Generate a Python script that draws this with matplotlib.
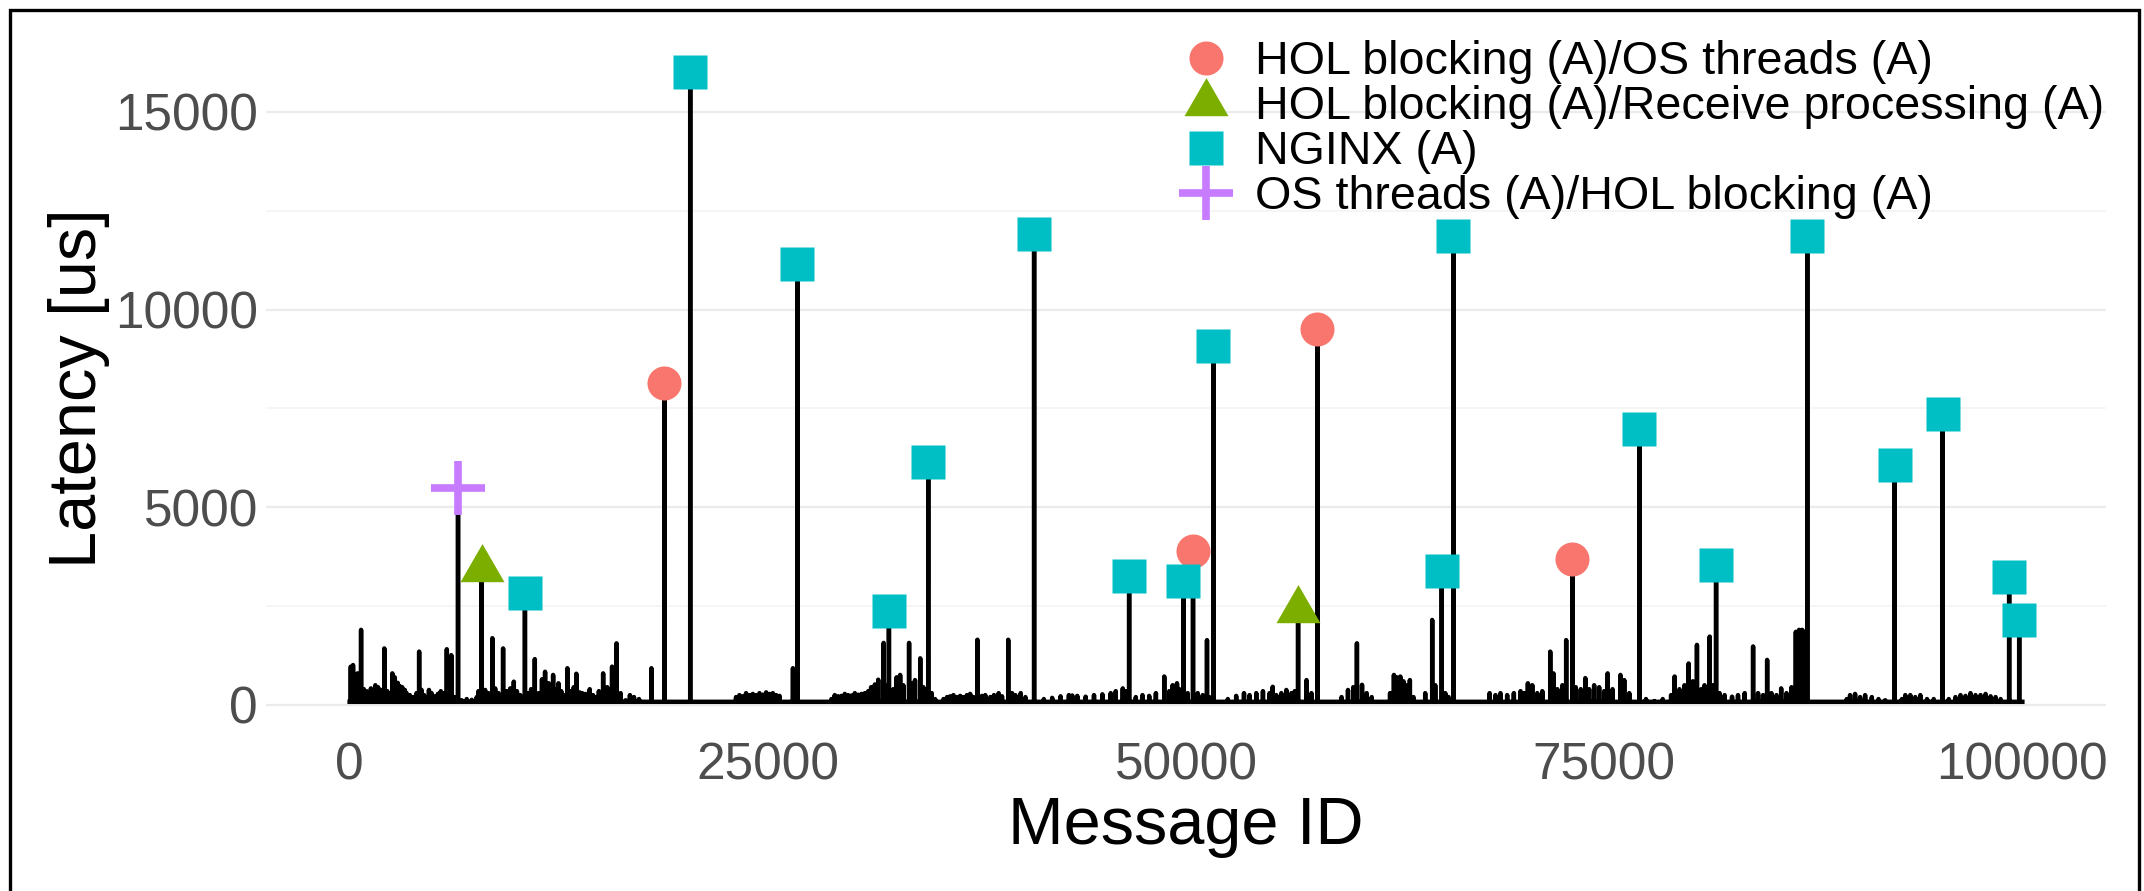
import matplotlib
matplotlib.use("Agg")
import matplotlib.pyplot as plt
from matplotlib.path import Path
from matplotlib.patches import Rectangle

plt.rcParams['font.family'] = ['Liberation Sans', 'DejaVu Sans']

# ---------------- data ----------------
# annotated spikes (message id, latency in us)
hol_os_ids = [18810, 50420, 57850, 73100]
hol_os_lat = [8150, 3900, 9500, 3690]

hol_rx_ids = [7890, 56700]
hol_rx_lat = [3450, 2400]

nginx_ids = [10480, 20360, 26770, 32240, 34590, 40920, 46600, 49840, 51640,
             65290, 65980, 77110, 81690, 87140, 92370, 95230, 99210, 99810]
nginx_lat = [2820, 16000, 11150, 2370, 6140, 11920, 3270, 3130, 9080,
             3380, 11850, 6980, 3550, 11850, 6070, 7360, 3245, 2150]

os_hol_ids = [6480]
os_hol_lat = [5490]

# other (unannotated) latency samples
other_ids = [70, 203, 350, 470, 684, 850, 1004, 1150, 1271, 1400, 1538, 1700, 1850,
             2072, 2250, 2400, 2553, 2700, 2873, 3000, 3140, 3300, 3407, 3600, 3800,
             4000, 4155, 4300, 4450, 4600, 4742, 4900, 5100, 5276, 5450, 5600, 5810,
             5950, 6077, 6250, 6700, 7000, 7300, 7600, 7700, 8100, 8300, 8533, 8700,
             8900, 9174, 9400, 9600, 9815, 10000, 10200, 10700, 10850, 11070, 11300,
             11500, 11684, 11900, 12165, 12300, 12485, 12650, 12800, 13019, 13200,
             13400, 13553, 13750, 13900, 14100, 14354, 14550, 14700, 14900, 15155,
             15400, 15689, 15956, 16200, 16500, 16757, 17000, 17300, 18039,
             23100, 23300, 23500, 23700, 23900, 24100, 24300, 24500, 24700, 24900,
             25100, 25300, 25500, 25700, 26503,
             28800, 29000, 29200, 29400, 29600, 29800, 30000, 30200, 30400, 30600,
             30800, 31000, 31175, 31400, 31600, 31923, 32100, 32500, 32700, 32911,
             33100, 33445, 33650, 33800, 34112, 34300, 34800, 35000,
             35500, 35714, 35900, 36100, 36300, 36500, 36700, 36900, 37100, 37300,
             37530, 37800, 38000, 38300, 38518, 38800, 39000, 39372, 39600, 39800,
             40120, 40400,
             41500, 42000, 42500, 43000, 43200, 43500, 44000, 44500, 45000, 45500,
             45800, 46220, 46400,
             47000, 47400, 47800, 48200, 48699, 49000, 49200, 49462, 49600, 50100,
             50700, 51000, 51255, 51400,
             52500, 53000, 53467, 53800, 54200, 54600, 55000, 55183, 55400, 55700,
             56000, 56300, 56500, 57205, 57500,
             59300, 59684, 60000, 60218, 60523, 60800, 61100,
             62200, 62430, 62600, 62811, 63000, 63200, 63383, 63600,
             64300, 64718, 64900, 65500, 65700,
             68151, 68500, 68800, 69200, 69600, 70000, 70200, 70439, 70700, 71000,
             71300, 71774, 71965, 72200, 72500, 72728, 73300, 73600, 73872, 74100,
             74400, 74700, 75000, 75207, 75500, 75970, 76200, 76500,
             77500, 78000, 78500, 79000, 79211, 79500, 79800, 80051, 80300, 80546,
             80800, 81000, 81309, 81500, 81900, 82200, 82644, 83000, 83400, 83902,
             84200, 84500, 84742, 85000, 85300, 85581, 85900, 86200, 86458, 86650,
             86840, 86950,
             89500, 89700, 90000, 90300, 90600, 91000, 91400, 91800,
             92800, 93000, 93300, 93600, 93900, 94300, 94700,
             95600, 96000, 96300, 96600, 96900, 97200, 97500, 97800, 98100, 98400,
             98700]
other_lat = [970, 1010, 600, 800, 1900, 400, 350, 300, 420, 250, 500, 450, 380,
             1430, 350, 300, 800, 700, 560, 480, 450, 380, 300, 250, 200,
             300, 1350, 380, 250, 200, 380, 300, 220, 280, 350, 300, 1410,
             900, 1260, 200, 120, 150, 130, 200, 350, 380, 300, 1690, 420,
             300, 1430, 350, 420, 590, 350, 250, 300, 400, 1160, 300,
             650, 840, 550, 760, 400, 550, 350, 250, 930, 350,
             450, 790, 320, 300, 280, 400, 250, 200, 350, 800,
             450, 970, 1560, 300, 120, 250, 200, 150, 930,
             200, 250, 220, 300, 250, 280, 250, 300, 260, 320,
             280, 300, 250, 230, 930,
             150, 250, 220, 230, 280, 250, 240, 300, 260, 280,
             300, 350, 450, 520, 640, 1570, 500, 400, 700, 760,
             500, 1570, 550, 630, 1180, 450, 300, 150,
             150, 200, 220, 250, 200, 230, 200, 250, 280, 200,
             1650, 230, 250, 200, 250, 300, 220, 1650, 300, 250,
             300, 200,
             150, 180, 220, 250, 240, 230, 210, 250, 270, 300,
             350, 420, 350,
             200, 250, 230, 300, 720, 350, 500, 550, 400, 300,
             300, 250, 1640, 200,
             150, 230, 300, 250, 300, 350, 300, 460, 250, 300,
             380, 300, 350, 630, 300,
             200, 380, 450, 1560, 510, 300, 200,
             300, 760, 700, 720, 600, 500, 630, 200,
             300, 2150, 500, 300, 200,
             300, 250, 300, 250, 300, 350, 300, 550, 500, 300,
             350, 1350, 800, 400, 500, 1640, 450, 400, 680, 400,
             500, 450, 350, 800, 400, 760, 630, 300,
             150, 100, 150, 250, 720, 400, 500, 1050, 600, 1520,
             400, 500, 1730, 500, 300, 250, 210, 250, 300, 1480,
             300, 250, 1140, 300, 250, 420, 300, 450, 1850, 1900,
             1900, 1850,
             150, 250, 280, 200, 250, 200, 150, 120,
             150, 250, 250, 200, 250, 150, 150,
             150, 200, 250, 230, 300, 250, 250, 280, 220, 200,
             150]

base_latency = 80          # latency of the quiet messages between samples
first_id, last_id = 0, 100000

x_ticks = [0, 25000, 50000, 75000, 100000]
y_ticks = [0, 5000, 10000, 15000]
y_minor = [2500, 7500, 12500]

labels = ["HOL blocking (A)/OS threads (A)",
          "HOL blocking (A)/Receive processing (A)",
          "NGINX (A)",
          "OS threads (A)/HOL blocking (A)"]
colors = ["#F8766D", "#7CAE00", "#00BFC4", "#C77CFF"]

# ---------------- build the latency trace ----------------
samples = sorted(zip(other_ids + hol_os_ids + hol_rx_ids + nginx_ids + os_hol_ids,
                     other_lat + hol_os_lat + hol_rx_lat + nginx_lat + os_hol_lat))
trace_x = [first_id]
trace_y = [base_latency]
for mid, lat in samples:
    trace_x += [mid - 1, mid, mid + 1]
    trace_y += [base_latency, lat, base_latency]
trace_x.append(last_id)
trace_y.append(base_latency)

# ---------------- figure ----------------
W, H = 2144, 891
fig = plt.figure(figsize=(W / 100, H / 100), dpi=100)
ax = fig.add_axes([266 / W, 1 - 736.6 / H, 1840 / W, 695.9 / H])

ax.plot(trace_x, trace_y, color="black", lw=3.2, zorder=2,
        solid_joinstyle="round")

tri = Path([(0, 1), (-0.866, -0.5), (0.866, -0.5), (0, 1)],
           [Path.MOVETO, Path.LINETO, Path.LINETO, Path.CLOSEPOLY])

h1, = ax.plot(hol_os_ids, hol_os_lat, ls="none", marker="o", ms=24.5,
              mfc=colors[0], mec="none", zorder=3, label=labels[0])
h2, = ax.plot(hol_rx_ids, hol_rx_lat, ls="none", marker=tri, ms=36.6,
              mfc=colors[1], mec="none", zorder=3, label=labels[1])
h3, = ax.plot(nginx_ids, nginx_lat, ls="none", marker="s", ms=24.5,
              mfc=colors[2], mec="none", zorder=3, label=labels[2])
h4, = ax.plot(os_hol_ids, os_hol_lat, ls="none", marker="+", ms=39.5,
              mec=colors[3], mew=5.5, zorder=3, label=labels[3])

# ggplot-like 5% expansion
xr = last_id - first_id
ymax = max(nginx_lat + hol_os_lat + hol_rx_lat + os_hol_lat + other_lat)
ax.set_xlim(first_id - 0.05 * xr, last_id + 0.05 * xr)
ax.set_ylim(-0.05 * ymax, ymax * 1.05)

ax.set_xticks(x_ticks)
ax.set_xticklabels([str(v) for v in x_ticks])
ax.set_yticks(y_ticks)
ax.set_yticklabels([str(v) for v in y_ticks])
ax.set_yticks(y_minor, minor=True)
ax.yaxis.grid(True, which="major", color="#ebebeb", lw=1.6)
ax.yaxis.grid(True, which="minor", color="#f2f2f2", lw=1.1)
ax.xaxis.grid(False)
ax.set_axisbelow(True)
for s in ax.spines.values():
    s.set_visible(False)
ax.tick_params(which="both", length=0)
ax.tick_params(axis="y", pad=5.8, labelsize=37, labelcolor="#4d4d4d")
ax.tick_params(axis="x", pad=3.5, labelsize=37, labelcolor="#4d4d4d")

ax.set_xlabel("Message ID", fontsize=48, color="black")
ax.xaxis.set_label_coords(0.5, -(796 - 736.6) / 695.9)
ax.xaxis.label.set_va("top")
ax.set_ylabel("Latency [us]", fontsize=48, color="black")
ax.yaxis.set_label_coords((110 - 266) / 1840, 0.5)

leg = ax.legend(handles=[h1, h2, h3, h4], loc="upper left",
                bbox_to_anchor=(1183 / W, 1 - 40.5 / H),
                bbox_transform=fig.transFigure, frameon=False, fontsize=33.6,
                borderpad=0, borderaxespad=0, handlelength=1.0,
                handletextpad=0.55, labelspacing=0.02, numpoints=1)

fig.patches.append(Rectangle((9.5 / W, -0.1), (2139 - 9.5) / W, 1.1 - 9.5 / H,
                             transform=fig.transFigure, fill=False,
                             ec="black", lw=2.4, zorder=10))

fig.savefig("out.png", dpi=100, facecolor="white")
